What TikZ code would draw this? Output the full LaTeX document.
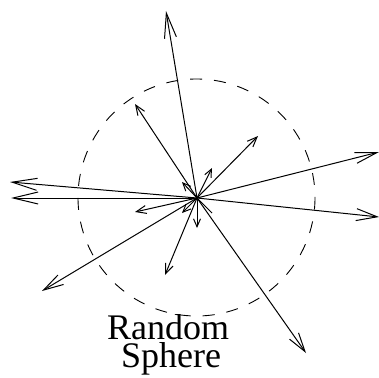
\documentclass[tikz,border=0pt]{standalone}
\usepackage{fontspec}
\setmainfont{Liberation Serif}
\usetikzlibrary{arrows.meta}
\begin{document}
\begin{tikzpicture}[x=1pt,y=-1pt,
  vecline/.style={line width=1pt},
  bigvec/.style={vecline,-{Straight Barb[length=25pt,width=12pt,line width=1pt]}},
  midvec/.style={vecline,-{Straight Barb[length=10pt,width=8pt,line width=1pt]}},
  smallvec/.style={vecline,-{Straight Barb[length=8pt,width=7pt,line width=1pt]}},
  sphere/.style={dash pattern=on 12pt off 12pt,line width=0.9pt},
  lbl/.style={anchor=north,inner sep=0pt,align=center,font=\fontsize{36}{29}\selectfont}]
\useasboundingbox (0,0) rectangle (379,377);
\coordinate (o) at (197,198);
\draw[sphere] (196.5,197.5) circle [radius=118.5];
% long arrows
\coordinate (up) at (166,11);
\coordinate (lu) at (10,182);
\coordinate (ll) at (11,198);
\coordinate (ru) at (379,152);
\coordinate (rl) at (379,217);
\coordinate (dr) at (306,353);
\coordinate (dl) at (42,291);
\draw[bigvec] (o) -- (up);
\draw[bigvec] (o) -- (lu);
\draw[bigvec] (o) -- (ll);
\draw[vecline,-{Straight Barb[length=22pt,width=11pt,line width=1pt]}] (o) -- (ru);
\draw[vecline,-{Straight Barb[length=21pt,width=12pt,line width=1pt]}] (o) -- (rl);
\draw[vecline,-{Straight Barb[length=19pt,width=11pt,line width=1pt]}] (o) -- (dr);
\draw[vecline,-{Straight Barb[length=20pt,width=11pt,line width=1pt]}] (o) -- (dl);
% medium arrows
\coordinate (ur) at (258,136);
\coordinate (ul) at (135,104);
\coordinate (lf) at (135,212);
\coordinate (dd) at (165,275);
\draw[midvec] (o) -- (ur);
\draw[midvec] (o) -- (ul);
\draw[midvec] (o) -- (lf);
\draw[midvec] (o) -- (dd);
% short arrows
\coordinate (s1) at (212,168);
\coordinate (s2) at (182,182);
\coordinate (s3) at (182,213);
\coordinate (s4) at (197,228);
\coordinate (s5) at (212,213);
\draw[smallvec] (o) -- (s1);
\draw[smallvec] (o) -- (s2);
\draw[smallvec] (o) -- (s3);
\draw[smallvec] (o) -- (s4);
\draw[vecline] (o) -- (s5);
% label
\node[lbl] (t) at (168,314) {Random\\[-1pt]\hspace*{6pt}Sphere};
\end{tikzpicture}
\end{document}
